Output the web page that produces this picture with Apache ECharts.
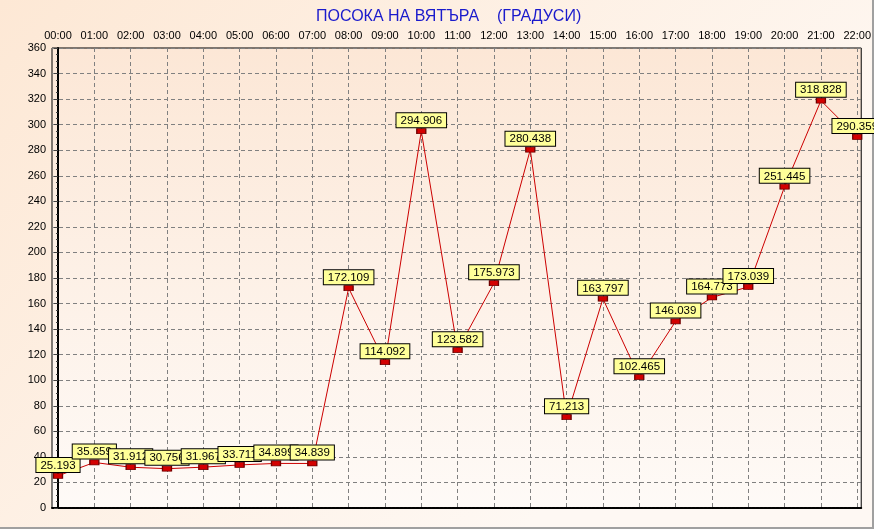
<!DOCTYPE html>
<html>
<head>
<meta charset="utf-8">
<style>
html, body { margin: 0; padding: 0; }
#chart { width: 874px; height: 529px; }
</style>
<script src="https://cdn.jsdelivr.net/npm/echarts@6/dist/echarts.min.js"></script>
</head>
<body>
<div id="chart"></div>
<script>
var hours = ['00:00', '01:00', '02:00', '03:00', '04:00', '05:00', '06:00', '07:00', '08:00', '09:00', '10:00', '11:00',
	'12:00', '13:00', '14:00', '15:00', '16:00', '17:00', '18:00', '19:00', '20:00', '21:00', '22:00'];
var direction = [25.193, 35.659, 31.912, 30.756, 31.967, 33.711, 34.899, 34.839, 172.109, 114.092, 294.906, 123.582,
	175.973, 280.438, 71.213, 163.797, 102.465, 146.039, 164.773, 173.039, 251.445, 318.828, 290.359];
var hourTicks = hours.map(function (h, i) { return i; });

var myChart = echarts.init(document.getElementById('chart'));
var option = {
	backgroundColor: new echarts.graphic.LinearGradient(0, 0, 0.6, 1, [
		{ offset: 0, color: '#fde8d5' },
		{ offset: 1, color: '#fef8f3' }
	]),
	animation: false,
	title: {
		text: 'ПОСОКА НА ВЯТЪРА    (ГРАДУСИ)',
		left: 311,
		top: 4,
		textStyle: {
			color: '#1a1acc',
			fontSize: 16,
			fontWeight: 'normal',
			fontFamily: 'Liberation Sans'
		}
	},
	grid: {
		left: 52,
		right: 10,
		top: 48,
		bottom: 21,
		show: true,
		borderColor: '#000',
		borderWidth: 1,
		backgroundColor: new echarts.graphic.LinearGradient(0, 0, 0, 1, [
			{ offset: 0, color: '#fce7d6' },
			{ offset: 1, color: '#fefaf7' }
		])
	},
	xAxis: {
		type: 'value',
		position: 'top',
		min: -0.165,
		max: 22.11,
		axisLine: { show: true, lineStyle: { color: '#000', width: 2, type: [3, 1] } },
		axisTick: { show: false, customValues: hourTicks },
		axisLabel: {
			customValues: hourTicks,
			margin: 7,
			color: '#000',
			fontSize: 11,
			fontFamily: 'Liberation Sans',
			formatter: function (v) { return hours[Math.round(v)]; }
		},
		splitLine: { show: true, lineStyle: { color: '#808080', type: [4, 3], width: 1 } }
	},
	yAxis: {
		type: 'value',
		min: 0,
		max: 360,
		interval: 20,
		axisLine: { show: true, lineStyle: { color: '#000', width: 2 } },
		axisTick: { show: true, length: 4, lineStyle: { color: '#404040' } },
		minorTick: { show: true, splitNumber: 4, length: 2, lineStyle: { color: '#404040' } },
		axisLabel: {
			margin: 6,
			color: '#000',
			fontSize: 11,
			fontFamily: 'Liberation Sans'
		},
		splitLine: { show: true, lineStyle: { color: '#808080', type: [4, 3], width: 1 } }
	},
	series: [
		{
			name: 'direction',
			type: 'line',
			data: direction.map(function (v, i) { return [i, v]; }),
			symbol: 'rect',
			symbolSize: [9, 5],
			itemStyle: { color: '#d40000', borderColor: '#700000', borderWidth: 1 },
			lineStyle: { color: '#cc0000', width: 1 },
			label: {
				show: true,
				position: 'top',
				distance: 1,
				formatter: function (p) { return p.value[1].toFixed(3); },
				color: '#000',
				fontSize: 11.5,
				fontFamily: 'Liberation Sans',
				backgroundColor: '#ffff99',
				borderColor: '#000',
				borderWidth: 1,
				padding: [1, 4, 0, 4],
				lineHeight: 13
			}
		}
	],
	graphic: [
		{
			type: 'rect',
			left: 0,
			bottom: 0,
			shape: { width: 874, height: 2 },
			style: { fill: '#a0a0a0' }
		},
		{
			type: 'rect',
			right: 0,
			top: 0,
			shape: { width: 2, height: 529 },
			style: { fill: '#a0a0a0' }
		}
	]
};
myChart.setOption(option);
</script>
</body>
</html>
